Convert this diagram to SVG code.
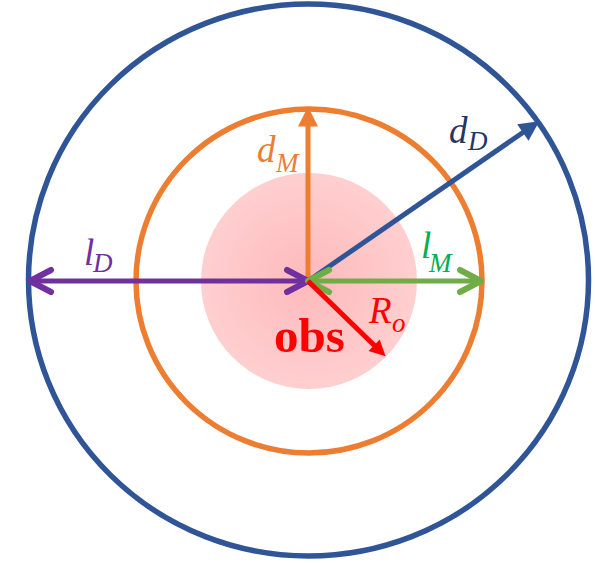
<svg xmlns="http://www.w3.org/2000/svg" width="595" height="563" viewBox="0 0 595 563">
<style>
.ring{fill:none;stroke-width:5.5}
.ln{fill:none;stroke-width:5;stroke-linecap:butt}
.m{font-family:"Liberation Serif",serif;font-style:italic}
.sub{font-size:27px}
.big{font-size:37px}
</style>
<defs>
<radialGradient id="pink" cx="0.5" cy="0.5" r="0.5">
<stop offset="0" stop-color="#FDB9BC"/>
<stop offset="1" stop-color="#FFCFCF"/>
</radialGradient>
<marker id="triO" markerUnits="userSpaceOnUse" markerWidth="20" markerHeight="20" viewBox="0 0 18 18" refX="4" refY="9" orient="auto" overflow="visible"><path d="M0,0 L18,9 L0,18 Z" fill="#ED7D31"/></marker>
<marker id="triB" markerUnits="userSpaceOnUse" markerWidth="20" markerHeight="20" viewBox="0 0 18 18" refX="4" refY="9" orient="auto" overflow="visible"><path d="M0,0 L18,9 L0,18 Z" fill="#2F5597"/></marker>
<marker id="triR" markerUnits="userSpaceOnUse" markerWidth="16" markerHeight="16" viewBox="0 0 16 16" refX="4" refY="8" orient="auto" overflow="visible"><path d="M0,0 L16,8 L0,16 Z" fill="#FF0000"/></marker>
<marker id="chP" markerUnits="userSpaceOnUse" markerWidth="30" markerHeight="30" viewBox="-26 -15 30 30" refX="0" refY="0" orient="auto-start-reverse" overflow="visible"><path d="M-21,-11 L0,0 L-21,11" fill="none" stroke="#7030A0" stroke-width="6" stroke-linecap="round" stroke-linejoin="round"/></marker>
<marker id="chG" markerUnits="userSpaceOnUse" markerWidth="30" markerHeight="30" viewBox="-26 -15 30 30" refX="0" refY="0" orient="auto-start-reverse" overflow="visible"><path d="M-21,-11 L0,0 L-21,11" fill="none" stroke="#70AD47" stroke-width="6" stroke-linecap="round" stroke-linejoin="round"/></marker>
</defs>
<rect width="595" height="563" fill="#FFFFFF"/>
<g id="obstacle"><circle cx="309" cy="281" r="108" fill="url(#pink)"/></g>
<g id="outer-ring"><ellipse class="ring" cx="308.5" cy="280" rx="280" ry="276" stroke="#2F5597"/></g>
<g id="middle-ring"><ellipse class="ring" cx="309" cy="281" rx="173" ry="172" stroke="#ED7D31"/></g>
<g id="connectors">
<line class="ln" x1="308" y1="281" x2="308" y2="122" stroke="#ED7D31" marker-end="url(#triO)"/>
<line class="ln" x1="308" y1="281" x2="526.5" y2="130" stroke="#2F5597" marker-end="url(#triB)"/>
<line class="ln" x1="308" y1="281" x2="30" y2="281" stroke="#7030A0" marker-start="url(#chP)" marker-end="url(#chP)"/>
<line class="ln" x1="308" y1="281" x2="481" y2="281" stroke="#70AD47" marker-start="url(#chG)" marker-end="url(#chG)"/>
<line class="ln" x1="308" y1="281" x2="377" y2="348" stroke="#FF0000" stroke-width="4" marker-end="url(#triR)"/>
</g>
<g id="label-dM" fill="#ED7D31"><text class="m big" x="257" y="162">d</text><text class="m sub" x="276" y="172">M</text></g>
<g id="label-dD" fill="#1F3864"><text class="m big" x="449" y="143">d</text><text class="m sub" x="468" y="150">D</text></g>
<g id="label-lD" fill="#7030A0"><text class="m big" x="84" y="265">l</text><text class="m sub" x="93" y="272">D</text></g>
<g id="label-lM" fill="#00B050"><text class="m big" x="421" y="258">l</text><text class="m sub" x="429" y="272">M</text></g>
<g id="label-Ro" fill="#FF0000"><text class="m big" x="369" y="323">R</text><text class="m sub" x="392" y="332">o</text></g>
<g id="label-obs"><text x="274" y="352" font-family="Liberation Serif,serif" font-weight="bold" font-size="49" fill="#FF0000">obs</text></g>
</svg>
